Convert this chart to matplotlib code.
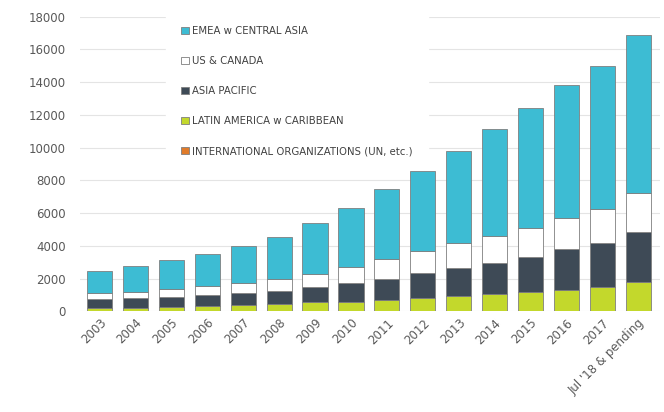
import numpy as np
import matplotlib
matplotlib.use('Agg')
import matplotlib.pyplot as plt

# x axis categories
years = ['2003', '2004', '2005', '2006', '2007', '2008', '2009', '2010',
         '2011', '2012', '2013', '2014', '2015', '2016', '2017', "Jul '18 & pending"]

# stacked series, bottom to top
intl_orgs = [10, 10, 10, 10, 10, 15, 15, 15, 20, 20, 20, 25, 25, 30, 30, 35]
latin_america = [200, 230, 270, 320, 385, 420, 540, 590, 690, 820, 945, 1050, 1165, 1300, 1485, 1785]
asia_pacific = [535, 565, 625, 660, 715, 815, 920, 1115, 1255, 1490, 1675, 1865, 2155, 2470, 2685, 3015]
us_canada = [405, 405, 450, 565, 610, 715, 815, 1015, 1260, 1380, 1520, 1670, 1755, 1890, 2040, 2380]
emea = [1320, 1590, 1790, 1955, 2295, 2605, 3130, 3565, 4275, 4890, 5660, 6510, 7340, 8120, 8770, 9685]

series = [
    ('INTERNATIONAL ORGANIZATIONS (UN, etc.)', intl_orgs, '#e07b2a'),
    ('LATIN AMERICA w CARIBBEAN', latin_america, '#c3d82c'),
    ('ASIA PACIFIC', asia_pacific, '#3e4a56'),
    ('US & CANADA', us_canada, '#ffffff'),
    ('EMEA w CENTRAL ASIA', emea, '#3dbcd3'),
]

fig = plt.figure(figsize=(6.64, 4.12), dpi=100)
ax = fig.add_axes([0.12, 0.244, 0.874, 0.7155])

x = np.arange(len(years))
bottom = np.zeros(len(years))
handles = {}
for label, vals, color in series:
    bars = ax.bar(x, vals, width=0.7, bottom=bottom, color=color,
                  edgecolor='#7f7f7f', linewidth=0.6, label=label, zorder=3)
    handles[label] = bars
    bottom += np.array(vals)

ax.set_xlim(-0.557, 15.61)
ax.set_ylim(0, 18000)
ax.set_yticks(np.arange(0, 18001, 2000))
ax.yaxis.grid(True, color='#e4e4e4', linewidth=0.8, zorder=0)
ax.set_axisbelow(True)
for s in ax.spines.values():
    s.set_visible(False)
ax.tick_params(axis='both', length=0, colors='#595959', labelsize=8.5)
ax.tick_params(axis='y', pad=10)
ax.set_xticks(x)
ax.set_xticklabels(years, rotation=45, ha='right', rotation_mode='anchor')

# legend order: top of stack first
order = [s[0] for s in series][::-1]
leg = ax.legend([handles[k] for k in order], order, loc='upper left',
                bbox_to_anchor=(0.149, 1.019), frameon=True, fancybox=False,
                edgecolor='white', framealpha=1, fontsize=7.3,
                labelspacing=1.97, handlelength=0.75, handleheight=0.75,
                handletextpad=0.3, borderpad=1.5, borderaxespad=0)
leg.set_zorder(2)  # above grid, below bars
for t in leg.get_texts():
    t.set_color('#404040')

fig.savefig('out.png', dpi=100)
